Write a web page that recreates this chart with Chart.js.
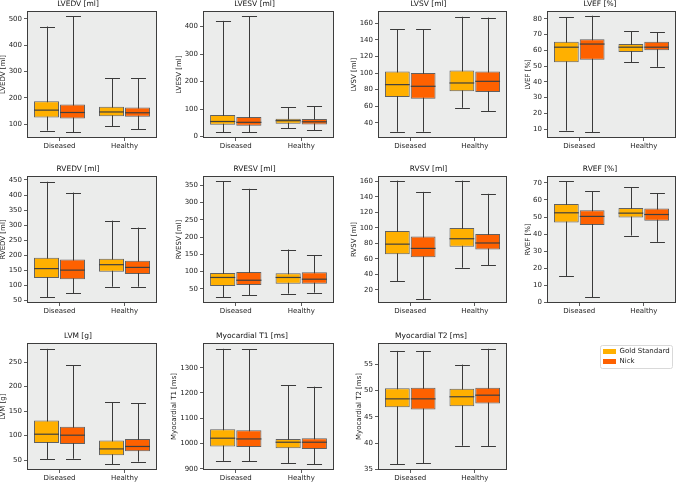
<!DOCTYPE html>
<html>
<head>
<meta charset="utf-8">
<script src="https://cdn.jsdelivr.net/npm/chart.js@4.4.1/dist/chart.umd.min.js"></script>
<style>
  html, body { margin: 0; padding: 0; background: #fff; }
  #fig { position: relative; width: 677px; height: 482px; overflow: hidden; }
  #fig canvas { position: absolute; }
</style>
</head>
<body>
<div id="fig"></div>
<script>
const groups = ['Diseased', 'Healthy'];
const seriesNames = ['Gold Standard', 'Nick'];

// five-number summaries per group: [min, q1, median, q3, max]
const lvedvGold = [[75, 125, 153, 187, 471], [92, 130, 146, 166, 275]];
const lvedvNick = [[68, 121, 144, 174, 510], [80, 128, 143, 163, 275]];
const lvesvGold = [[16, 43, 55, 79, 421], [31, 47, 58, 65, 106]];
const lvesvNick = [[16, 40, 52, 71, 437], [24, 44, 54, 64, 110]];
const lvsvGold = [[29, 71, 86, 102, 153], [58, 78, 88, 103, 168]];
const lvsvNick = [[29, 69, 84, 100, 153], [54, 77, 90, 102, 167]];
const lvefGold = [[9, 52.5, 62, 65.5, 81], [52.5, 59, 62, 64, 72]];
const lvefNick = [[8, 54, 64, 67, 82], [49.5, 60, 62, 65.5, 71.5]];
const rvedvGold = [[61, 125, 156, 192, 444], [96, 146, 169, 189, 315]];
const rvedvNick = [[74, 121, 151, 186, 408], [96, 138, 160, 182, 292]];
const rvesvGold = [[26, 58, 83, 96, 362], [36, 65, 83, 95, 164]];
const rvesvNick = [[31, 61, 75, 99, 340], [39, 65, 78, 98, 148]];
const rvsvGold = [[31, 66, 79, 96, 161], [48.5, 75.5, 86, 100, 161]];
const rvsvNick = [[8, 62, 73.5, 89, 146.5], [51.5, 72, 80.5, 92, 144]];
const rvefGold = [[15.6, 46.9, 52.5, 57.7, 70.8], [39.2, 49.8, 52.3, 55.3, 67.5]];
const rvefNick = [[3.3, 45.4, 50.4, 54, 65], [35.5, 47.8, 51.5, 55, 63.8]];
const lvmGold = [[52, 85, 103, 131, 277], [42, 60, 73, 90, 168]];
const lvmNick = [[53, 83, 101, 118, 244], [47, 68, 78, 93, 166]];
const t1Gold = [[931, 988, 1021, 1056, 1375], [921, 981, 1005, 1018, 1230]];
const t1Nick = [[929, 986, 1018, 1052, 1373], [918, 978, 1005, 1021, 1225]];
const t2Gold = [[36, 46.8, 48.4, 50.4, 57.5], [39.5, 47, 48.8, 50.3, 54.9]];
const t2Nick = [[36.2, 46.4, 48.4, 50.5, 57.5], [39.4, 47.5, 49.1, 50.5, 57.9]];

const panels = [
  { title: 'LVEDV [ml]', gold: lvedvGold, nick: lvedvNick, yMin: 47, yMax: 530, step: 100, digits: 3 },
  { title: 'LVESV [ml]', gold: lvesvGold, nick: lvesvNick, yMin: -5, yMax: 457, step: 100, digits: 3 },
  { title: 'LVSV [ml]', gold: lvsvGold, nick: lvsvNick, yMin: 21.5, yMax: 175, step: 20, digits: 3 },
  { title: 'LVEF [%]', gold: lvefGold, nick: lvefNick, yMin: 4.3, yMax: 85, step: 10, digits: 2 },
  { title: 'RVEDV [ml]', gold: rvedvGold, nick: rvedvNick, yMin: 42, yMax: 463, step: 50, digits: 3 },
  { title: 'RVESV [ml]', gold: rvesvGold, nick: rvesvNick, yMin: 9, yMax: 377, step: 50, digits: 3 },
  { title: 'RVSV [ml]', gold: rvsvGold, nick: rvsvNick, yMin: 3, yMax: 167, step: 20, digits: 3 },
  { title: 'RVEF [%]', gold: rvefGold, nick: rvefNick, yMin: -0.2, yMax: 74, step: 10, digits: 2 },
  { title: 'LVM [g]', gold: lvmGold, nick: lvmNick, yMin: 30, yMax: 289, step: 50, digits: 3 },
  { title: 'Myocardial T1 [ms]', gold: t1Gold, nick: t1Nick, yMin: 895, yMax: 1398, step: 100, digits: 4 },
  { title: 'Myocardial T2 [ms]', gold: t2Gold, nick: t2Nick, yMin: 34.9, yMax: 59, step: 5, digits: 2 }
];

const colors = ['#FFB000', '#FE6100'];
const FONT = 'DejaVu Sans';
const colLeft = [27, 203, 378, 547];
const colRight = [157, 334, 507, 676];
const rowTop = [11, 176, 343];
const rowBottom = [138, 303, 470];
const TITLE_H = 11;
const XAXIS_H = 14;

const boxPlugin = {
  id: 'boxes',
  beforeDraw(chart) {
    const { ctx, chartArea: a } = chart;
    ctx.save();
    ctx.fillStyle = '#ebeceb';
    ctx.fillRect(a.left, a.top, a.width, a.height);
    ctx.restore();
  },
  beforeDatasetsDraw(chart) {
    // whiskers and caps, boxes are drawn over them
    const { ctx } = chart;
    const y = chart.scales.y;
    ctx.save();
    ctx.strokeStyle = '#3a3a3a';
    ctx.lineWidth = 1;
    chart.data.datasets.forEach((ds, i) => {
      chart.getDatasetMeta(i).data.forEach((bar, j) => {
        const s = ds.stats[j];
        const cx = Math.round(bar.x) + 0.5;
        const half = bar.width * 0.3;
        ctx.beginPath();
        ctx.moveTo(cx, y.getPixelForValue(s[0]));
        ctx.lineTo(cx, y.getPixelForValue(s[4]));
        [s[0], s[4]].forEach(v => {
          const py = Math.round(y.getPixelForValue(v)) + 0.5;
          ctx.moveTo(cx - half, py);
          ctx.lineTo(cx + half, py);
        });
        ctx.stroke();
      });
    });
    ctx.restore();
  },
  afterDatasetsDraw(chart) {
    const { ctx } = chart;
    const y = chart.scales.y;
    ctx.save();
    ctx.strokeStyle = '#3f3f3f';
    ctx.lineWidth = 1.2;
    chart.data.datasets.forEach((ds, i) => {
      chart.getDatasetMeta(i).data.forEach((bar, j) => {
        const py = y.getPixelForValue(ds.stats[j][2]);
        ctx.beginPath();
        ctx.moveTo(bar.x - bar.width / 2, py);
        ctx.lineTo(bar.x + bar.width / 2, py);
        ctx.stroke();
      });
    });
    ctx.restore();
  },
  afterDraw(chart) {
    const { ctx, chartArea: a } = chart;
    ctx.save();
    ctx.strokeStyle = '#3d3d3d';
    ctx.lineWidth = 1;
    ctx.strokeRect(Math.round(a.left) + 0.5, Math.round(a.top) + 0.5,
      Math.round(a.width) - 1, Math.round(a.height) - 1);
    ctx.restore();
  }
};

function addCanvas(left, top, w, h) {
  const cv = document.createElement('canvas');
  cv.width = w;
  cv.height = h;
  cv.style.left = left + 'px';
  cv.style.top = top + 'px';
  cv.style.width = w + 'px';
  cv.style.height = h + 'px';
  document.getElementById('fig').appendChild(cv);
  return cv;
}

panels.forEach((p, k) => {
  const col = k % 4, row = Math.floor(k / 4);
  const axisW = 13 + 5 * p.digits;
  const plotW = colRight[col] - colLeft[col];
  const plotH = rowBottom[row] - rowTop[row];
  const cv = addCanvas(colLeft[col] - axisW, rowTop[row] - TITLE_H,
    axisW + plotW + 1, TITLE_H + plotH + XAXIS_H);

  new Chart(cv, {
    type: 'bar',
    data: {
      labels: groups,
      datasets: [p.gold, p.nick].map((stats, i) => ({
        label: seriesNames[i],
        data: stats.map(s => [s[1], s[3]]),
        stats: stats,
        backgroundColor: colors[i],
        borderColor: 'rgba(63,63,63,0.8)',
        borderWidth: 1,
        borderSkipped: false,
        categoryPercentage: 0.8,
        barPercentage: 0.96
      }))
    },
    options: {
      responsive: false,
      animation: false,
      events: [],
      devicePixelRatio: 1,
      layout: { padding: { left: 0, right: 1, top: 0, bottom: 0 } },
      plugins: {
        legend: { display: false },
        tooltip: { enabled: false },
        title: {
          display: true,
          text: p.title,
          color: '#111',
          font: { family: FONT, size: 7.5, weight: 'normal' },
          padding: { top: 0, bottom: 2 }
        }
      },
      scales: {
        x: {
          offset: true,
          grid: { display: true, offset: false, drawOnChartArea: false, drawTicks: true, tickLength: 3, color: '#333', lineWidth: 0.8 },
          border: { display: false },
          ticks: { color: '#222', font: { family: FONT, size: 7 }, padding: 1, maxRotation: 0 },
          afterFit(scale) { scale.height = XAXIS_H; }
        },
        y: {
          min: p.yMin,
          max: p.yMax,
          grid: { display: true, drawOnChartArea: false, drawTicks: true, tickLength: 3, color: '#333', lineWidth: 0.8 },
          border: { display: false },
          ticks: { color: '#222', font: { family: FONT, size: 7 }, padding: 2, callback: v => String(v) },
          title: { display: true, text: p.title, color: '#222', font: { family: FONT, size: 7 }, padding: { top: 0, bottom: 0 } },
          afterBuildTicks(scale) {
            const ticks = [];
            for (let v = Math.ceil(p.yMin / p.step) * p.step; v <= p.yMax; v += p.step) ticks.push({ value: v });
            scale.ticks = ticks;
          },
          afterFit(scale) { scale.width = axisW; }
        }
      }
    },
    plugins: [boxPlugin]
  });
});

// legend in the empty last cell
const legendFrame = {
  id: 'legendFrame',
  afterDraw(chart) {
    const { ctx } = chart;
    ctx.save();
    ctx.strokeStyle = '#d9d9d9';
    ctx.lineWidth = 1;
    ctx.beginPath();
    ctx.roundRect(0.5, 0.5, 72, 23, 2);
    ctx.stroke();
    ctx.restore();
  }
};

new Chart(addCanvas(600, 345, 74, 40), {
  type: 'bar',
  data: {
    labels: [],
    datasets: seriesNames.map((name, i) => ({ label: name, data: [], backgroundColor: colors[i], borderWidth: 0 }))
  },
  options: {
    responsive: false,
    animation: false,
    events: [],
    devicePixelRatio: 1,
    layout: { padding: 0 },
    scales: { x: { display: false }, y: { display: false } },
    plugins: {
      tooltip: { enabled: false },
      legend: {
        display: true,
        position: 'top',
        align: 'start',
        labels: { boxWidth: 13, boxHeight: 5, padding: 3, color: '#222', font: { family: FONT, size: 7 } }
      }
    }
  },
  plugins: [legendFrame]
});
</script>
</body>
</html>
